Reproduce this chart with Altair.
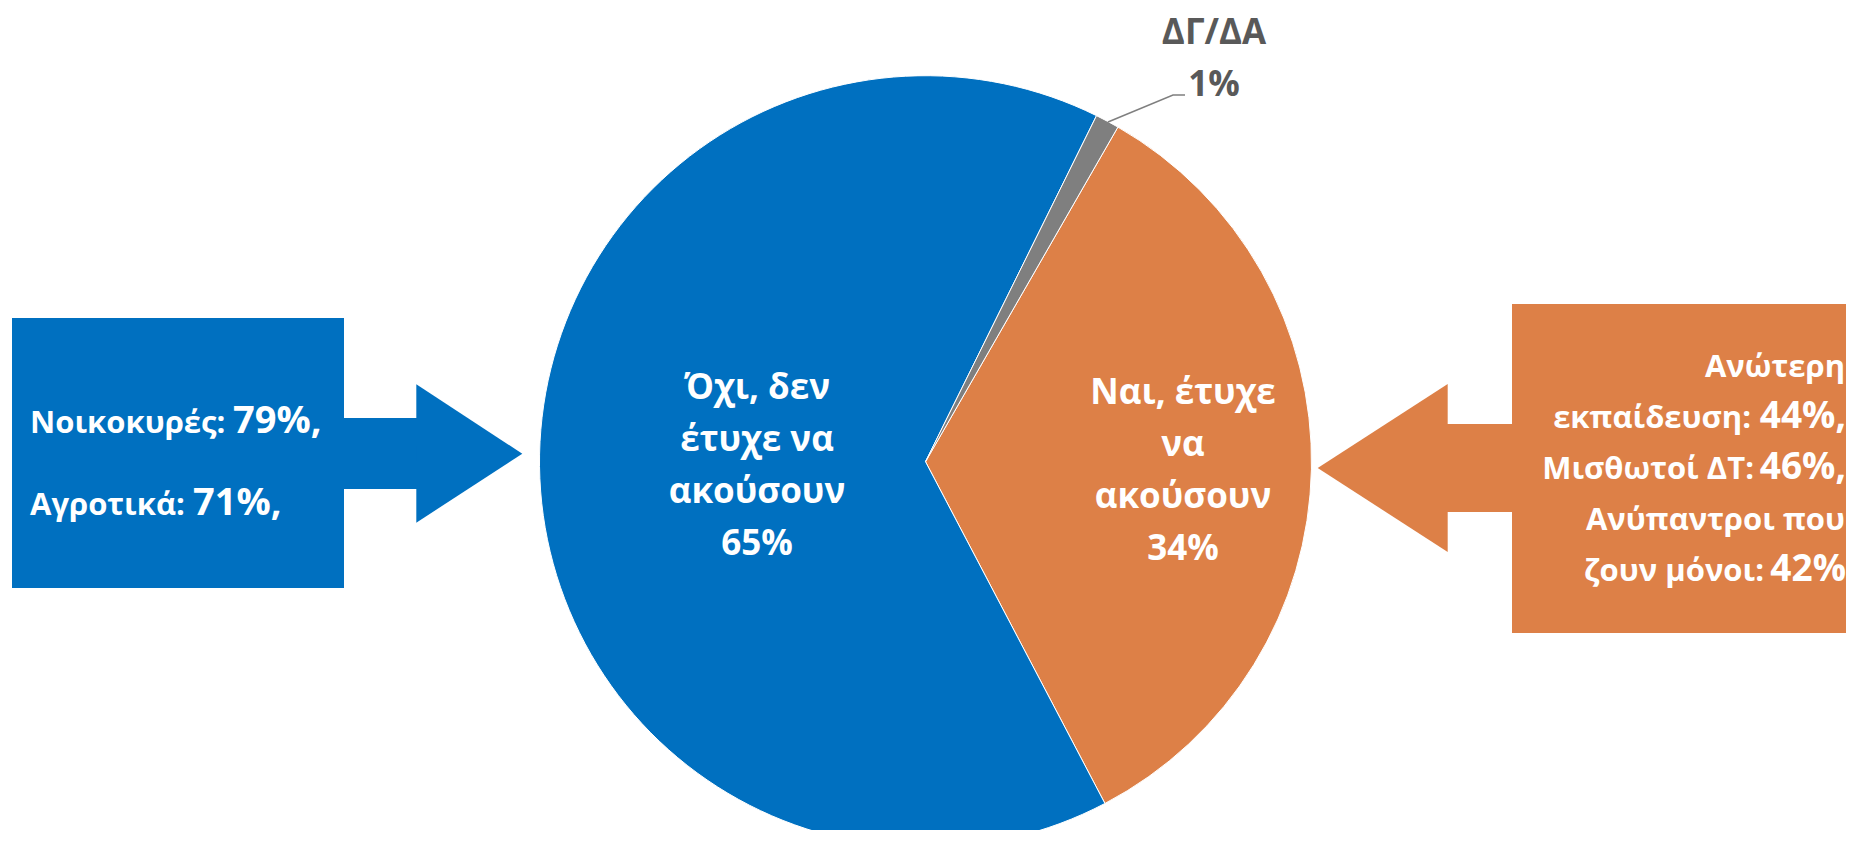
import math
import altair as alt
import pandas as pd

# ---------------- data ----------------
categories = ["Ναι, έτυχε να ακούσουν", "Όχι, δεν έτυχε να ακούσουν", "ΔΓ/ΔΑ"]
values = [34, 65, 1]
slice_colors = ["#DD8047", "#0070C0", "#7F7F7F"]
pie_labels = ["Ναι, έτυχε\nνα\nακούσουν\n34%", "Όχι, δεν\nέτυχε να\nακούσουν\n65%", "ΔΓ/ΔΑ\n1%"]

left_labels = ["Νοικοκυρές:", "Αγροτικά:"]
left_values = ["79%,", "71%,"]
right_labels = ["Ανώτερη", "εκπαίδευση:", "Μισθωτοί ΔΤ:", "Ανύπαντροι που", "ζουν μόνοι:"]
right_values = ["", "44%,", "46%,", "", "42%"]

# ---------------- layout (page pixels) ----------------
W, H = 1838, 822
M = 8
BLUE, ORANGE, GRAY_TXT = "#0070C0", "#DD8047", "#595959"
pie_cx, pie_cy, pie_r = 925.5, 461.7, 386
start_deg = 29.9
label_font = "Open Sans"

xs = alt.Scale(domain=[M, M + W], range=[0, W])
ys = alt.Scale(domain=[M, M + H], range=[0, H])

# pie
pie_df = pd.DataFrame({"cat": categories, "value": values, "color": slice_colors,
                       "idx": list(range(len(categories)))})
start = math.radians(start_deg)
pie = alt.Chart(pie_df).mark_arc(radius=pie_r, stroke="white", strokeWidth=1).encode(
    theta=alt.Theta("value:Q", stack=True, scale=alt.Scale(range=[start, start + 2 * math.pi])),
    color=alt.Color("color:N", scale=None),
    order=alt.Order("idx:Q"),
    x=alt.value(pie_cx - M),
    y=alt.value(pie_cy - M),
)

# boxes and arrow stems
rect_df = pd.DataFrame([
    {"x": 12, "x2": 344, "y": 318, "y2": 588, "color": BLUE},
    {"x": 343, "x2": 417, "y": 418, "y2": 489, "color": BLUE},
    {"x": 1446, "x2": 1513, "y": 424, "y2": 512, "color": ORANGE},
    {"x": 1512, "x2": 1860, "y": 304, "y2": 633, "color": ORANGE},
])
rects = alt.Chart(rect_df).mark_rect().encode(
    x=alt.X("x:Q", scale=xs, axis=None), x2="x2:Q",
    y=alt.Y("y:Q", scale=ys, axis=None), y2="y2:Q",
    color=alt.Color("color:N", scale=None),
)

# arrow heads (triangles)
head_df = pd.DataFrame([
    {"g": "b", "x": 416.3, "y": 384.3, "y2": 522.7, "color": BLUE},
    {"g": "b", "x": 522.3, "y": 453.7, "y2": 453.7, "color": BLUE},
    {"g": "o", "x": 1317.7, "y": 468.0, "y2": 468.0, "color": ORANGE},
    {"g": "o", "x": 1447.7, "y": 384.0, "y2": 552.0, "color": ORANGE},
])
heads = alt.Chart(head_df).mark_area(orient="vertical").encode(
    x=alt.X("x:Q", scale=xs, axis=None),
    y=alt.Y("y:Q", scale=ys, axis=None), y2="y2:Q",
    detail="g:N",
    color=alt.Color("color:N", scale=None),
)

# leader line for ΔΓ/ΔΑ
leader_df = pd.DataFrame({"x": [1108, 1173, 1185], "y": [122, 95, 95], "o": [0, 1, 2]})
leader = alt.Chart(leader_df).mark_line(color="#7F7F7F", strokeWidth=1.5).encode(
    x=alt.X("x:Q", scale=xs, axis=None),
    y=alt.Y("y:Q", scale=ys, axis=None),
    order="o:Q",
)

# pie labels (centered, multi-line)
pie_lab_df = pd.DataFrame({
    "text": pie_labels,
    "x": [1183, 757, 1214],
    "y": [404, 399, 44],
    "color": ["white", "white", GRAY_TXT],
})
pie_text = alt.Chart(pie_lab_df).mark_text(
    font=label_font, fontWeight="bold", fontSize=35, align="center",
    baseline="alphabetic", lineBreak="\n", lineHeight=52,
).encode(
    x=alt.X("x:Q", scale=xs, axis=None),
    y=alt.Y("y:Q", scale=ys, axis=None),
    text="text:N",
    color=alt.Color("color:N", scale=None),
)

# left box text (left aligned)
left_rows = []
for lab, val, base, vx in zip(left_labels, left_values, [433, 515], [233, 193]):
    left_rows.append({"text": lab, "x": 30, "y": base, "size": 31})
    left_rows.append({"text": val, "x": vx, "y": base, "size": 38})
left_text = alt.Chart(pd.DataFrame(left_rows)).mark_text(
    font=label_font, fontWeight="bold", align="left", baseline="alphabetic", color="white",
).encode(
    x=alt.X("x:Q", scale=xs, axis=None),
    y=alt.Y("y:Q", scale=ys, axis=None),
    text="text:N",
    size=alt.Size("size:Q", scale=None),
)

# right box text (right aligned)
right_rows = []
bases = [377, 428, 479, 530, 581]
label_right = [1845, 1751, 1754, 1845, 1764]
value_right = [None, 1846, 1846, None, 1846]
for lab, val, base, lr, vr in zip(right_labels, right_values, bases, label_right, value_right):
    right_rows.append({"text": lab, "x": lr, "y": base, "size": 31})
    if val:
        right_rows.append({"text": val, "x": vr, "y": base, "size": 37})
right_text = alt.Chart(pd.DataFrame(right_rows)).mark_text(
    font=label_font, fontWeight="bold", align="right", baseline="alphabetic", color="white",
).encode(
    x=alt.X("x:Q", scale=xs, axis=None),
    y=alt.Y("y:Q", scale=ys, axis=None),
    text="text:N",
    size=alt.Size("size:Q", scale=None),
)

chart = alt.layer(rects, heads, pie, leader, pie_text, left_text, right_text).properties(
    width=W, height=H, padding=0, autosize=alt.AutoSizeParams(type="none"),
    background="white",
).configure_view(stroke=None)

chart.save("out.html", embed_options={"renderer": "svg", "actions": False})
